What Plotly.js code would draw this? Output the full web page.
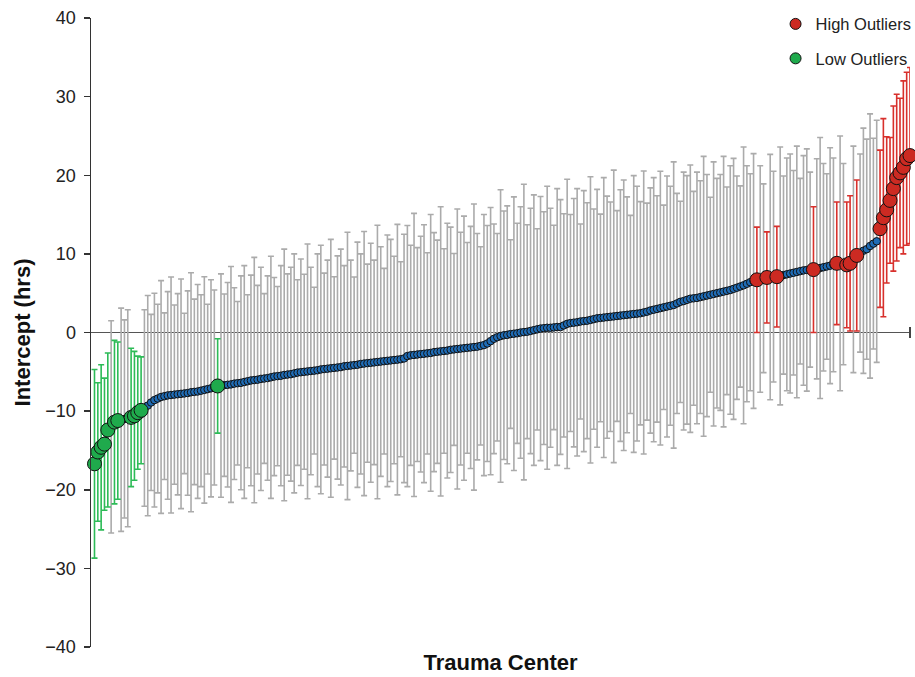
<!DOCTYPE html>
<html>
<head>
<meta charset="utf-8">
<script src="https://cdn.plot.ly/plotly-3.0.1.min.js"></script>
<style>
  html, body { margin: 0; padding: 0; background: #ffffff; }
  #chart { width: 915px; height: 677px; }
</style>
</head>
<body>
<div id="chart"></div>
<script>
// Intercept estimate (hrs) per trauma center, sorted ascending
const intercept = [
  -16.7, -15.2, -14.6, -14.2, -12.4, -12.0, -11.4, -11.2, -11.1, -11.0,
  -10.9, -10.8, -10.6, -10.2, -9.9, -9.6, -9.3, -8.9, -8.6, -8.4,
  -8.2, -8.1, -8.0, -7.95, -7.9, -7.85, -7.8, -7.75, -7.7, -7.6,
  -7.55, -7.5, -7.4, -7.3, -7.2, -7.1, -7.0, -6.8, -6.75, -6.7,
  -6.65, -6.6, -6.5, -6.45, -6.4, -6.3, -6.2, -6.1, -6.05, -6.0,
  -5.9, -5.85, -5.8, -5.7, -5.6, -5.55, -5.5, -5.4, -5.35, -5.3,
  -5.2, -5.1, -5.05, -5.0, -4.95, -4.9, -4.85, -4.8, -4.7, -4.65,
  -4.6, -4.55, -4.5, -4.45, -4.4, -4.3, -4.25, -4.2, -4.15, -4.1,
  -4.0, -3.95, -3.9, -3.85, -3.8, -3.75, -3.7, -3.65, -3.6, -3.55,
  -3.5, -3.45, -3.4, -3.3, -3.0, -2.9, -2.85, -2.8, -2.75, -2.7,
  -2.65, -2.6, -2.5, -2.45, -2.4, -2.35, -2.3, -2.2, -2.15, -2.1,
  -2.05, -2.0, -1.95, -1.9, -1.85, -1.8, -1.7, -1.6, -1.4, -1.1,
  -0.8, -0.6, -0.45, -0.35, -0.3, -0.2, -0.15, -0.1, 0.0, 0.05,
  0.1, 0.2, 0.3, 0.4, 0.5, 0.55, 0.6, 0.6, 0.65, 0.7,
  0.7, 0.9, 1.1, 1.2, 1.25, 1.3, 1.4, 1.45, 1.5, 1.6,
  1.7, 1.8, 1.85, 1.9, 1.95, 2.0, 2.05, 2.1, 2.15, 2.2,
  2.25, 2.3, 2.35, 2.4, 2.45, 2.55, 2.65, 2.8, 2.9, 3.0,
  3.1, 3.2, 3.3, 3.4, 3.5, 3.7, 3.9, 4.0, 4.15, 4.3,
  4.35, 4.4, 4.5, 4.6, 4.7, 4.8, 4.9, 5.0, 5.1, 5.2,
  5.3, 5.4, 5.55, 5.7, 5.85, 6.0, 6.2, 6.4, 6.55, 6.7,
  6.8, 6.9, 7.0, 7.05, 7.1, 7.1, 7.2, 7.3, 7.4, 7.5,
  7.6, 7.7, 7.8, 7.9, 7.95, 8.0, 8.0, 8.1, 8.2, 8.3,
  8.4, 8.5, 8.6, 8.8, 8.8, 8.7, 8.6, 8.8, 9.3, 9.8,
  10.1, 10.4, 10.6, 11.0, 11.3, 11.6, 13.2, 14.6, 15.6, 16.8,
  18.3, 19.7, 20.3, 21.0, 22.1, 22.5
];

// Half-width of the 95% interval (hrs) per center
const ciHalf = [
  12.0, 8.8, 10.5, 8.4, 9.8, 13.5, 10.4, 10.0, 14.2, 12.6,
  13.8, 8.8, 8.2, 7.2, 6.8, 12.5, 14.0, 11.2, 13.6, 12.0,
  14.8, 10.6, 13.2, 15.0, 11.4, 12.8, 14.6, 10.2, 13.0, 15.2,
  11.8, 13.6, 12.2, 14.4, 10.8, 13.8, 12.4, 6.0, 14.2, 11.6,
  13.0, 15.0, 12.2, 10.4, 13.6, 14.8, 11.0, 13.4, 15.6, 12.0,
  14.2, 10.8, 13.0, 15.4, 12.6, 11.4, 14.0, 16.0, 12.8, 13.6,
  15.2, 11.8, 14.4, 12.4, 16.2, 13.2, 10.6, 14.8, 15.8, 12.2,
  13.8, 16.4, 11.6, 14.2, 15.0, 12.8, 17.0, 13.4, 11.2, 15.6,
  14.0, 16.8, 12.6, 15.2, 13.0, 17.4, 14.6, 11.8, 16.0, 15.4,
  13.2, 17.2, 12.4, 15.8, 16.6, 14.0, 18.0, 13.6, 15.0, 16.4,
  12.8, 17.6, 15.2, 14.2, 18.4, 13.0, 16.2, 15.6, 12.2, 17.8,
  14.8, 16.8, 13.4, 15.4, 18.2, 14.4, 12.6, 16.6, 15.0, 17.0,
  14.6, 13.2, 18.6, 15.8, 16.4, 12.0, 17.4, 14.0, 16.0, 18.8,
  13.6, 15.6, 17.2, 12.8, 16.8, 14.8, 18.0, 15.2, 13.0, 17.6,
  16.2, 14.2, 18.4, 13.8, 15.8, 17.0, 12.4, 16.6, 15.0, 18.2,
  14.0, 16.4, 13.2, 17.8, 15.4, 14.6, 18.6, 13.4, 16.0, 17.2,
  15.0, 12.6, 17.6, 16.2, 14.2, 18.0, 13.8, 15.6, 16.8, 14.4,
  17.4, 13.0, 16.6, 15.2, 18.2, 14.0, 12.8, 16.4, 15.8, 17.0,
  13.6, 16.0, 14.8, 17.8, 15.4, 12.4, 16.8, 14.6, 15.0, 17.2,
  13.2, 15.8, 16.6, 14.2, 12.8, 17.6, 15.0, 13.8, 16.2, 6.7,
  14.4, 12.0, 5.8, 15.6, 13.4, 6.4, 16.4, 12.6, 14.8, 15.2,
  13.0, 16.0, 11.8, 14.6, 15.4, 12.4, 8.0, 14.0, 16.6, 13.2,
  11.8, 15.0, 13.6, 7.8, 16.2, 12.8, 8.0, 8.6, 14.4, 9.6,
  12.6, 15.6, 14.0, 16.8, 13.4, 15.4, 10.0, 12.6, 9.3, 8.0,
  10.5, 10.6, 9.5, 11.0, 11.0, 11.2
];

// Rank positions (1-based) of the outlier centers
const lowOutliers = [1, 2, 3, 4, 5, 7, 8, 12, 13, 14, 15, 38];
const highOutliers = [200, 203, 206, 217, 224, 227, 228, 230,
  237, 238, 239, 240, 241, 242, 243, 244, 245, 246];

const legendNames = ["High Outliers", "Low Outliers"];
const xTitle = "Trauma Center";
const yTitle = "Intercept (hrs)";

// ---- build traces ----
const rank = intercept.map((_, i) => i + 1);
const lowSet = new Set(lowOutliers), highSet = new Set(highOutliers);
const normalIdx = rank.filter(r => !lowSet.has(r) && !highSet.has(r));

function pick(list) {
  return {
    x: list,
    y: list.map(r => intercept[r - 1]),
    e: list.map(r => ciHalf[r - 1])
  };
}
const N = pick(normalIdx), H = pick(highOutliers), L = pick(lowOutliers);

const COL = {
  grayBar: "#ababab",
  blue: "#1f6cb6",
  red: "#cc2a22",
  redBar: "#d8302c",
  green: "#1faa4c",
  greenBar: "#2dbb57"
};

function barTrace(d, color) {
  return {
    type: "scatter", mode: "markers", x: d.x, y: d.y,
    marker: { size: 1, color: "rgba(0,0,0,0)" },
    error_y: { type: "data", array: d.e, symmetric: true, color: color, thickness: 1.6, width: 3 },
    showlegend: false, hoverinfo: "skip", cliponaxis: false
  };
}
function ptTrace(d, color, size) {
  return {
    type: "scatter", mode: "markers", x: d.x, y: d.y,
    marker: { size: size, color: color, line: { color: "#111", width: 1 } },
    showlegend: false, cliponaxis: false
  };
}
function legendTrace(name, color, group) {
  return {
    type: "scatter", mode: "markers", x: [null], y: [null], name: name,
    legendgroup: group,
    marker: { size: 11, color: color, line: { color: "#111", width: 1 } }
  };
}

const data = [
  barTrace(N, COL.grayBar),
  barTrace(H, COL.redBar),
  barTrace(L, COL.greenBar),
  ptTrace(N, COL.blue, 7.5),
  ptTrace(H, COL.red, 14),
  ptTrace(L, COL.green, 14),
  legendTrace(legendNames[0], COL.red, "a"),
  legendTrace(legendNames[1], COL.green, "b")
];

const FONT = "Liberation Sans, Arial, Helvetica, sans-serif";

const layout = {
  width: 915, height: 677,
  margin: { l: 91, r: 5, t: 18, b: 30, autoexpand: false },
  paper_bgcolor: "#ffffff", plot_bgcolor: "#ffffff",
  font: { family: FONT, color: "#222", size: 16 },
  showlegend: true,
  legend: {
    x: 1.008, xanchor: "right", y: 1.018, yanchor: "top",
    bgcolor: "rgba(0,0,0,0)", borderwidth: 0,
    font: { family: FONT, size: 16.5, color: "#222" },
    traceorder: "grouped", tracegroupgap: 10
  },
  xaxis: {
    range: [-0.05, 246], showgrid: false, zeroline: false, showline: false,
    showticklabels: false, ticks: "", automargin: false,
    title: { text: xTitle, font: { family: FONT, size: 22, color: "#111", weight: "bold" }, standoff: 7 }
  },
  yaxis: {
    range: [-40, 40], dtick: 10, showgrid: false, automargin: false,
    showline: true, linecolor: "#333", linewidth: 1.5,
    ticks: "outside", ticklen: 6, tickwidth: 1.5, tickcolor: "#333",
    ticklabelstandoff: 4,
    tickfont: { family: FONT, size: 18, color: "#222" },
    zeroline: true, zerolinecolor: "#555", zerolinewidth: 1.5,
    title: { text: yTitle, font: { family: FONT, size: 22, color: "#111", weight: "bold" }, standoff: 8 }
  },
  shapes: [
    { type: "line", xref: "paper", yref: "y", x0: 1, x1: 1, y0: -0.7, y1: 0.7,
      line: { color: "#444", width: 2 } }
  ]
};

Plotly.newPlot("chart", data, layout, { displayModeBar: false, staticPlot: true });
</script>
</body>
</html>
